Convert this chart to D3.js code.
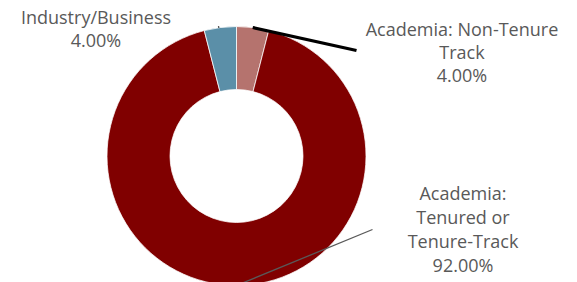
<!DOCTYPE html>
<html>
<head>
<meta charset="utf-8">
<script src="https://cdn.jsdelivr.net/npm/d3@7"></script>
<style>
  body { margin: 0; background: #fff; }
  text { font-family: "Open Sans", sans-serif; fill: #595959; }
</style>
</head>
<body>
<div id="chart"></div>
<script>
// data
const categories = ["Academia: Non-Tenure Track", "Academia: Tenured or Tenure-Track", "Industry/Business"];
const values = [4, 92, 4];
const labelLines = [
    ["Academia: Non-Tenure", "Track", "4.00%"],
    ["Academia:", "Tenured or", "Tenure-Track", "92.00%"],
    ["Industry/Business", "4.00%"]
];
const colors = ["#b5736e", "#800000", "#5b8fa8"];

const w = 577, h = 282;
const cx = 236.5, cy = 156, outerR = 129.5, innerR = 66.5;

let svg = d3.select("#chart").append("svg")
    .attr("width", w)
    .attr("height", h);

let rows = categories.map((c, i) => ({ name: c, value: values[i], lines: labelLines[i] }));

let pie = d3.pie()
    .sort(null)
    .value(d => d.value);

let arc = d3.arc()
    .innerRadius(innerR)
    .outerRadius(outerR);

let color = d3.scaleOrdinal().domain(categories).range(colors);

let g = svg.append("g")
    .attr("transform", "translate(" + cx + "," + cy + ")");

let arcs = pie(rows);

g.selectAll("path")
    .data(arcs)
    .join("path")
    .attr("d", arc)
    .attr("fill", d => color(d.data.name))
    .attr("stroke", "#fff")
    .attr("stroke-width", 0.75);

// point on the outer edge, middle of a slice
function edge(d, r) {
    let a = (d.startAngle + d.endAngle) / 2;
    return [Math.sin(a) * r, -Math.cos(a) * r];
}

// label anchors (centre x, first baseline) and leader ends, in page coords
const labelPos = [[462, 35.5], [463, 200], [96, 24]];
const leaderEnd = [[356.5, 50.5], [372.5, 229.5], [218.5, 26]];
const leaderStyle = [["#000", 3.2], ["#595959", 1.3], ["#595959", 1.3]];
const lineGap = [23.3, 23.9, 23];

let leaders = svg.append("g");
arcs.forEach((d, i) => {
    let p = edge(d, outerR);
    if (i == 2) p = edge(d, outerR - 0.5);
    leaders.append("line")
        .attr("x1", i == 2 ? 218.8 : cx + p[0])
        .attr("y1", cy + p[1])
        .attr("x2", leaderEnd[i][0])
        .attr("y2", leaderEnd[i][1])
        .attr("stroke", leaderStyle[i][0])
        .attr("stroke-width", leaderStyle[i][1]);
});

let labels = svg.append("g");
arcs.forEach((d, i) => {
    let t = labels.append("text")
        .attr("text-anchor", "middle")
        .attr("font-size", 18);
    d.data.lines.forEach((s, k) => {
        t.append("tspan")
            .attr("x", labelPos[i][0])
            .attr("y", labelPos[i][1] + k * lineGap[i])
            .text(s);
    });
});
</script>
</body>
</html>
